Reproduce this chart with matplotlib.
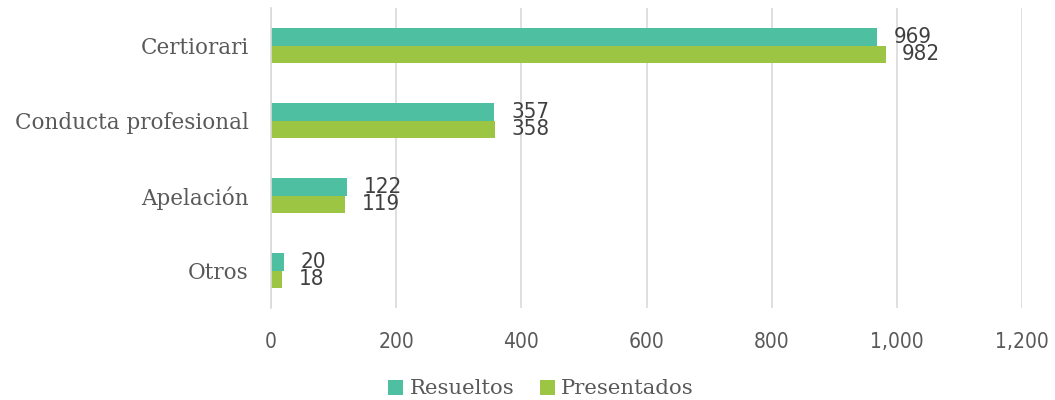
import numpy as np
import matplotlib
matplotlib.use("Agg")
import matplotlib.pyplot as plt
from matplotlib.ticker import FuncFormatter

categorias = ["Certiorari", "Conducta profesional", "Apelación", "Otros"]
resueltos = [969, 357, 122, 20]
presentados = [982, 358, 119, 18]
series = ["Resueltos", "Presentados"]
xticks = [0, 200, 400, 600, 800, 1000, 1200]

C_RES, C_PRE = "#4FBFA2", "#9DC544"
TXT = "#595959"
SERIF = ["DejaVu Serif"]
NUM = ["DejaVu Sans"]

fig = plt.figure(figsize=(10.55, 4.0), dpi=100)
ax = fig.add_axes([271 / 1055, 1 - 308 / 400, 751 / 1055, 300 / 400])

y = np.arange(len(categorias))
h = 0.23
b1 = ax.barh(y - h / 2, resueltos, height=h, color=C_RES, label=series[0])
b2 = ax.barh(y + h / 2, presentados, height=h, color=C_PRE, label=series[1])

# value labels, tall narrow digits like the original
for bars, vals in ((b1, resueltos), (b2, presentados)):
    for r, v in zip(bars, vals):
        ax.annotate(f"{v:,}", (r.get_width(), r.get_y() + r.get_height() / 2),
                    xytext=(12, 0), textcoords="offset points", va="center",
                    ha="left", fontsize=16, color="#404040", family=NUM,
                    fontstretch="condensed")

ax.set_ylim(len(categorias) - 0.5, -0.5)
ax.set_xlim(0, 1200)
ax.set_xticks(xticks)
ax.xaxis.set_major_formatter(FuncFormatter(lambda v, p: f"{int(v):,}"))
ax.set_yticks(y)
ax.set_yticklabels(categorias, family=SERIF, fontsize=15.5, color=TXT)
for lab in ax.get_xticklabels():
    lab.set_family(NUM); lab.set_fontsize(15); lab.set_color(TXT)
    lab.set_fontstretch("condensed")
ax.tick_params(axis="both", length=0)
ax.tick_params(axis="x", pad=17)
ax.tick_params(axis="y", pad=16)
ax.grid(axis="x", color="#D9D9D9", linewidth=1.2)
ax.set_axisbelow(True)
for s in ("top", "right", "bottom"):
    ax.spines[s].set_visible(False)
ax.spines["left"].set_color("#D9D9D9")
ax.spines["left"].set_linewidth(1.2)

leg = fig.legend(handles=[b1, b2], labels=series, loc="center", bbox_to_anchor=(541 / 1055, 1 - 389 / 400),
                 ncol=2, frameon=False, handlelength=0.7, handleheight=0.7,
                 handletextpad=0.3, columnspacing=1.2, prop={"family": SERIF, "size": 15.3})
for t in leg.get_texts():
    t.set_color(TXT)

fig.savefig("out.png", dpi=100, facecolor="white")
